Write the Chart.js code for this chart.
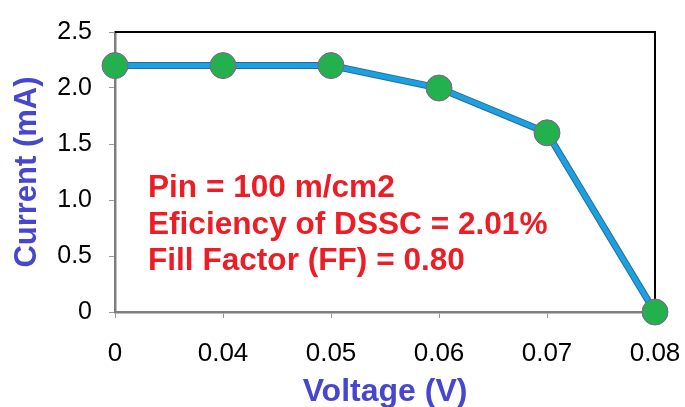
<!DOCTYPE html>
<html>
<head>
<meta charset="utf-8">
<script src="https://cdn.jsdelivr.net/npm/chart.js@4"></script>
<style>
  html, body { margin: 0; padding: 0; background: #fff; }
  #wrap { width: 685px; height: 407px; }
</style>
</head>
<body>
<div id="wrap"><canvas id="ivChart" width="685" height="407"></canvas></div>
<script>
'use strict';

// I-V curve data
var voltage = ['0', '0.04', '0.05', '0.06', '0.07', '0.08'];
var current = [2.2, 2.2, 2.2, 2.0, 1.6, 0];
var notes = ['Pin = 100 m/cm2', 'Eficiency of DSSC = 2.01%', 'Fill Factor (FF) = 0.80'];
var noteLevels = [1.028, 0.70, 0.372];   // baseline of each note, in mA units

var axisBlue = '#4646CE';
var fontFam = '"Liberation Sans", Arial, sans-serif';

// top/right black frame and the red notes
var framePlugin = {
    id: 'frame',
    beforeDatasetsDraw: function(chart) {
        var a = chart.chartArea, ctx = chart.ctx;
        ctx.save();
        ctx.strokeStyle = '#000';
        ctx.lineWidth = 2;
        ctx.beginPath();
        ctx.moveTo(a.left, a.top);
        ctx.lineTo(a.right, a.top);
        ctx.lineTo(a.right, a.bottom);
        ctx.stroke();

        ctx.fillStyle = '#EE1C25';
        ctx.font = 'bold 31.6px ' + fontFam;
        ctx.textBaseline = 'alphabetic';
        var y = chart.scales.y;
        for (var i = 0; i < notes.length; i++) {
            ctx.fillText(notes[i], a.left + 33, y.getPixelForValue(noteLevels[i]));
        }
        ctx.restore();
    }
};

var ctx = document.getElementById('ivChart').getContext('2d');
var chart = new Chart(ctx, {
    type: 'line',
    data: {
        labels: voltage,
        datasets: [{
            data: current,
            borderColor: '#1BA1E2',
            borderWidth: 5,
            pointRadius: 13,
            pointBackgroundColor: '#22B14C',
            pointBorderColor: '#8A5A9A',
            pointBorderWidth: 1,
            tension: 0,
            clip: false,
            order: 0
        }, {
            // dark edge under the blue line
            data: current,
            borderColor: '#2A6A96',
            borderWidth: 7,
            pointRadius: 0,
            tension: 0,
            clip: false,
            order: 1
        }]
    },
    options: {
        responsive: false,
        animation: false,
        layout: { padding: { left: 0, right: 30, top: 30, bottom: 0 } },
        plugins: {
            legend: { display: false },
            tooltip: { enabled: false }
        },
        scales: {
            x: {
                type: 'category',
                offset: false,
                afterFit: function(s) {
                    s.height = 95;
                    s.paddingLeft = 0;
                    s.paddingRight = 0;
                },
                border: { color: '#7F7F7F', width: 2.5 },
                grid: { drawOnChartArea: false, drawTicks: true, tickLength: 6, color: '#9A9A9A' },
                ticks: {
                    color: '#000',
                    padding: 20,
                    maxRotation: 0,
                    font: { family: fontFam, size: 26 }
                },
                title: {
                    display: true,
                    text: 'Voltage (V)',
                    color: axisBlue,
                    padding: { top: 0, bottom: 0 },
                    font: { family: fontFam, size: 32, weight: 'bold', lineHeight: 0.9 }
                }
            },
            y: {
                min: 0,
                max: 2.5,
                afterFit: function(s) { s.width = 115; },
                border: { color: '#7F7F7F', width: 2.5 },
                grid: { drawOnChartArea: false, drawTicks: true, tickLength: 6, color: '#9A9A9A' },
                ticks: {
                    stepSize: 0.5,
                    color: '#000',
                    padding: 17,
                    font: { family: fontFam, size: 25 },
                    callback: function(v) { return v === 0 ? '0' : v.toFixed(1); }
                },
                title: {
                    display: true,
                    text: 'Current (mA)',
                    color: axisBlue,
                    padding: { top: 9, bottom: 0 },
                    font: { family: fontFam, size: 31, weight: 'bold' }
                }
            }
        }
    },
    plugins: [framePlugin]
});
</script>
</body>
</html>
